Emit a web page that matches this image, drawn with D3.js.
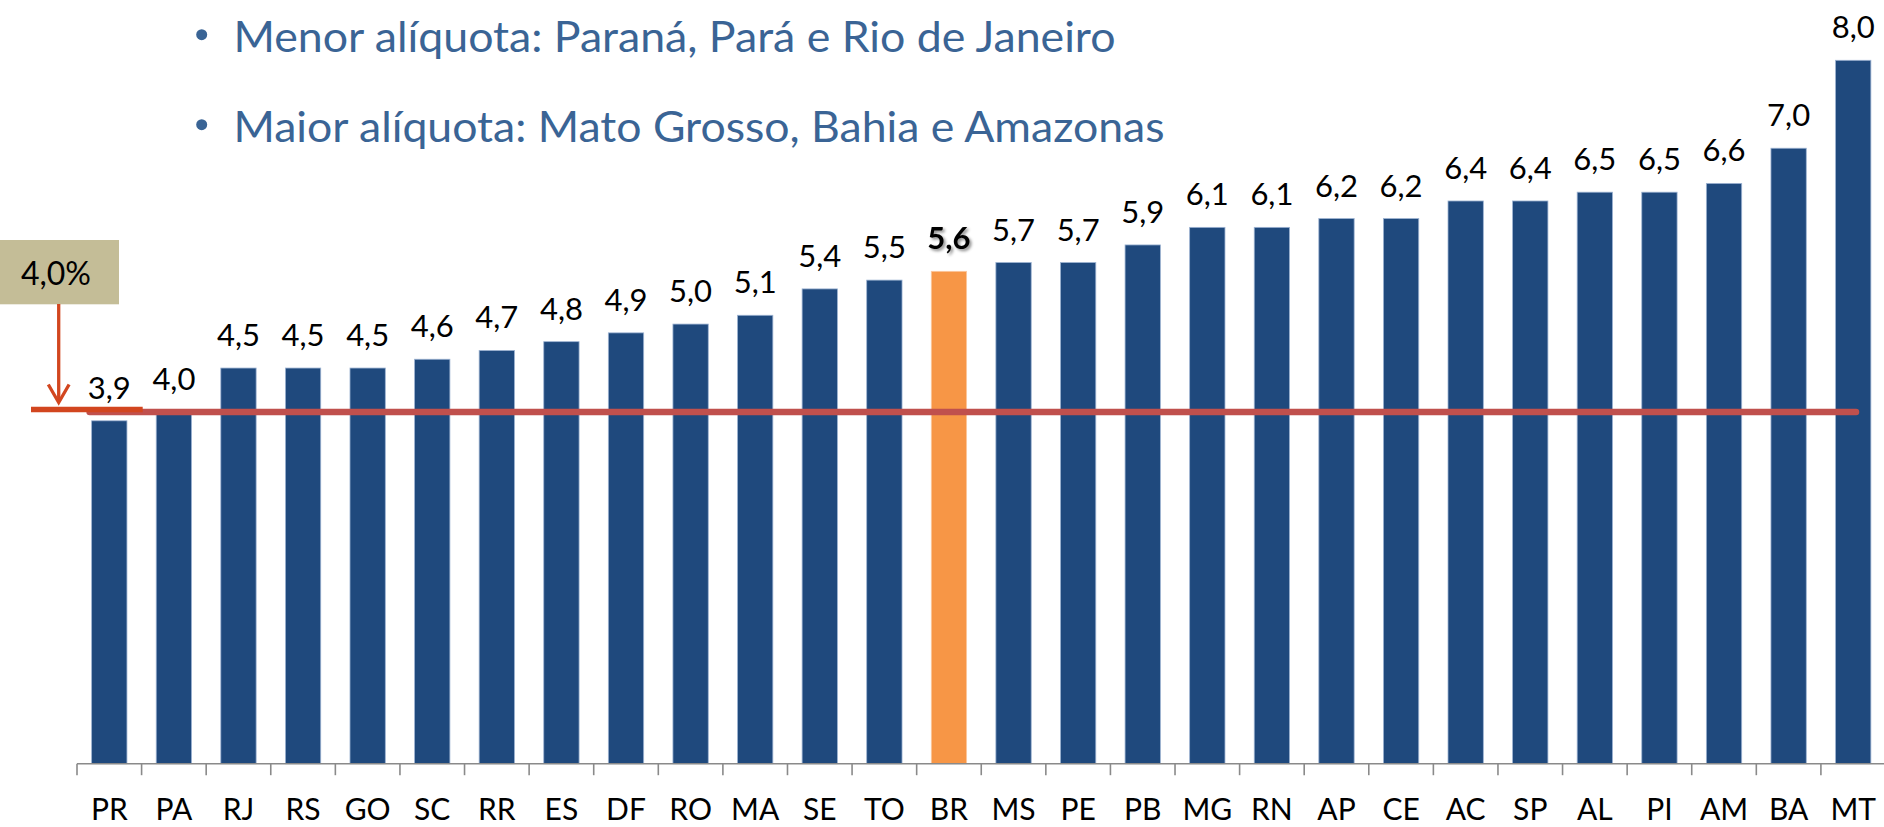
<!DOCTYPE html>
<html>
<head>
<meta charset="utf-8">
<script src="https://cdn.jsdelivr.net/npm/d3@7"></script>
<style>
  html, body { margin: 0; padding: 0; background: #ffffff; }
  svg { display: block; }
</style>
</head>
<body>
<svg id="chart" width="1884" height="827"></svg>
<script>
// ---- Data ----
const states = ["PR","PA","RJ","RS","GO","SC","RR","ES","DF","RO","MA","SE","TO","BR","MS","PE","PB","MG","RN","AP","CE","AC","SP","AL","PI","AM","BA","MT"];
const rates  = [3.9, 4.0, 4.5, 4.5, 4.5, 4.6, 4.7, 4.8, 4.9, 5.0, 5.1, 5.4, 5.5, 5.6, 5.7, 5.7, 5.9, 6.1, 6.1, 6.2, 6.2, 6.4, 6.4, 6.5, 6.5, 6.6, 7.0, 8.0];
const highlight = "BR";
const referenceRate = 4.0;
const referenceLabel = "4,0%";
const bullets = [
  "Menor alíquota: Paraná, Pará e Rio de Janeiro",
  "Maior alíquota: Mato Grosso, Bahia e Amazonas"
];

// ---- Layout ----
const svg = d3.select("#chart");
const FONT = "Lato, 'Open Sans', sans-serif";
const baseY = 763.7, topY = 60.3;
const x0 = 77, x1 = 1885.5;

const x = d3.scaleBand().domain(states).range([x0, x1]).paddingInner(0.453).paddingOuter(0.2265);
const y = d3.scaleLinear().domain([0, 8]).range([baseY, topY]);
const fmt = v => v.toFixed(1).replace(".", ",");

const defs = svg.append("defs");
const f = defs.append("filter").attr("id", "shadow").attr("x", "-30%").attr("y", "-30%").attr("width", "160%").attr("height", "160%");
f.append("feDropShadow").attr("dx", 2).attr("dy", 2).attr("stdDeviation", 1.5)
  .attr("flood-color", "#000").attr("flood-opacity", 0.45);

// ---- Bullet texts ----
const bulletBase = [51.7, 141.7];
const bulletWidth = [882, 931];
bullets.forEach((t, i) => {
  svg.append("circle").attr("cx", 201.7).attr("cy", bulletBase[i] - 17).attr("r", 5.5).attr("fill", "#3a6495");
  svg.append("text").attr("x", 233.5).attr("y", bulletBase[i])
    .attr("font-family", FONT).attr("font-size", 42).attr("fill", "#3a6495")
    .attr("textLength", bulletWidth[i]).attr("lengthAdjust", "spacingAndGlyphs")
    .text(t);
});

// ---- Bars ----
const data = states.map((s, i) => ({ s, v: rates[i] }));
svg.append("g").selectAll("rect").data(data).join("rect")
  .attr("x", d => x(d.s))
  .attr("y", d => y(d.v))
  .attr("width", x.bandwidth())
  .attr("height", d => y(0) - y(d.v))
  .attr("fill", d => d.s === highlight ? "#f79646" : "#1f497d")
  .attr("stroke", d => d.s === highlight ? "#fbc8a0" : "#9db3d2")
  .attr("stroke-width", 0.8);

// ---- Value labels ----
svg.append("g").selectAll("text").data(data).join("text")
  .attr("x", d => x(d.s) + x.bandwidth() / 2)
  .attr("y", d => y(d.v) - 22)
  .attr("text-anchor", "middle")
  .attr("font-family", FONT)
  .attr("font-size", 31)
  .attr("font-weight", d => d.s === highlight ? "bold" : "normal")
  .attr("filter", d => d.s === highlight ? "url(#shadow)" : null)
  .attr("fill", "#000")
  .text(d => fmt(d.v));

// ---- X axis ----
const axis = d3.axisBottom(x).tickSize(0).tickPadding(0).tickSizeOuter(0);
const gx = svg.append("g").attr("transform", `translate(0,${baseY})`).call(axis);
gx.select(".domain").remove();
gx.selectAll("text").attr("font-family", FONT).attr("font-size", 30).attr("fill", "#000")
  .attr("dy", null).attr("y", 820.5 - baseY);
const gap = (x.step() - x.bandwidth()) / 2;
svg.append("line").attr("x1", x0).attr("x2", 1884).attr("y1", baseY).attr("y2", baseY)
  .attr("stroke", "#8a8a8a").attr("stroke-width", 1.6);
svg.append("g").selectAll("line").data(states).join("line")
  .attr("x1", d => x(d) - gap).attr("x2", d => x(d) - gap)
  .attr("y1", baseY).attr("y2", baseY + 11.5)
  .attr("stroke", "#8a8a8a").attr("stroke-width", 1.6);

// ---- Reference line ----
svg.append("line")
  .attr("x1", x(states[0]) - 2).attr("x2", 1856)
  .attr("y1", y(referenceRate)).attr("y2", y(referenceRate))
  .attr("stroke", "#c0504d").attr("stroke-width", 6.5).attr("stroke-linecap", "round");

// ---- Callout ----
svg.append("rect").attr("x", 0).attr("y", 240).attr("width", 119).attr("height", 64.3).attr("fill", "#c4bd97");
svg.append("text").attr("x", 56).attr("y", 285).attr("text-anchor", "middle")
  .attr("font-family", FONT).attr("font-size", 32).attr("fill", "#000").text(referenceLabel);
const red = "#d2461f";
const refY = y(referenceRate) - 2.5;
svg.append("line").attr("x1", 31).attr("x2", 142.7).attr("y1", refY).attr("y2", refY)
  .attr("stroke", red).attr("stroke-width", 5.5);
svg.append("line").attr("x1", 58.7).attr("x2", 58.7).attr("y1", 304).attr("y2", refY - 8)
  .attr("stroke", red).attr("stroke-width", 3.3);
svg.append("path").attr("d", `M48.3,${refY - 25} L58.7,${refY - 7} L69.1,${refY - 25}`)
  .attr("fill", "none").attr("stroke", red).attr("stroke-width", 3.3);
</script>
</body>
</html>
